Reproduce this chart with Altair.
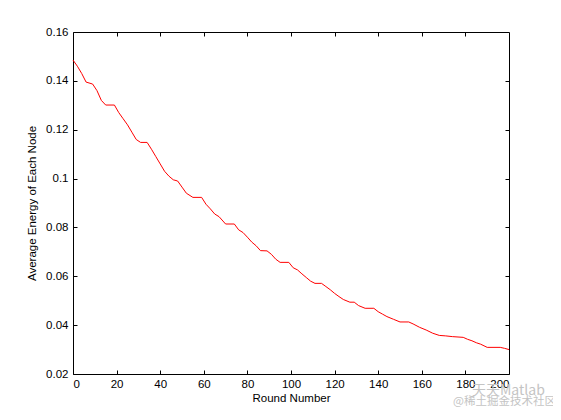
import altair as alt
import pandas as pd

rounds = [0, 2, 4, 6, 9, 11, 13, 15, 19, 21, 23, 25, 27, 29, 31, 34, 36, 38, 40, 42,
          44, 46, 48, 50, 52, 55, 59, 61, 63, 65, 67, 70, 74, 76, 78, 80, 82, 84, 86, 89,
          91, 93, 95, 99, 101, 103, 105, 107, 109, 111, 114, 116, 118, 120, 122, 124, 127, 129, 131, 134,
          138, 140, 142, 144, 147, 150, 154, 156, 159, 162, 165, 168, 171, 174, 179, 181, 183, 185, 187, 190,
          196, 198, 200]
energy = [0.1485, 0.1460, 0.1430, 0.1395, 0.1387, 0.1360, 0.1320, 0.1301, 0.1301, 0.1270,
          0.1245, 0.1220, 0.1190, 0.1160, 0.1148, 0.1148, 0.1120, 0.1090, 0.1060, 0.1030,
          0.1010, 0.0995, 0.0990, 0.0965, 0.0940, 0.0923, 0.0923, 0.0895, 0.0876, 0.0855,
          0.0844, 0.0814, 0.0814, 0.0790, 0.0779, 0.0760, 0.0740, 0.0725, 0.0705, 0.0704,
          0.0690, 0.0670, 0.0657, 0.0657, 0.0635, 0.0626, 0.0610, 0.0595, 0.0580, 0.0571,
          0.0571, 0.0558, 0.0545, 0.0530, 0.0517, 0.0505, 0.0494, 0.0494, 0.0480, 0.0469,
          0.0469, 0.0455, 0.0445, 0.0435, 0.0424, 0.0413, 0.0413, 0.0405, 0.0391, 0.0380,
          0.0367, 0.0358, 0.0356, 0.0353, 0.0350, 0.0342, 0.0336, 0.0328, 0.0322, 0.0309,
          0.0309, 0.0305, 0.0300]

x_ticks = [0, 20, 40, 60, 80, 100, 120, 140, 160, 180, 200]
y_ticks = [0.02, 0.04, 0.06, 0.08, 0.10, 0.12, 0.14, 0.16]

W, H = 436, 342
FONT = "Liberation Sans"
TL = 4  # inner tick length in px

df = pd.DataFrame({"round": rounds, "energy": energy})

xscale = alt.Scale(domain=[0, 200], nice=False, zero=False)
yscale = alt.Scale(domain=[0.02, 0.16], nice=False, zero=False)

ax_style = dict(labelFont=FONT, labelFontSize=11.5, labelColor="#000000",
                titleFont=FONT, titleFontSize=11.5, titleFontWeight="normal",
                titleColor="#000000", domain=True, domainColor="#000000",
                domainWidth=1, ticks=False, grid=True, gridColor="#000000",
                gridWidth=1, gridOpacity=1)

# grid lines dashed so that only a short piece at each end shows -> inner ticks on both sides;
# the last grid line on each axis is solid and closes the box (top / right edges).
x_grid_dash = alt.condition("datum.value >= 200", alt.value([1000, 0]),
                            alt.value([TL, H - 2 * TL, TL, 1000]))
y_grid_dash = alt.condition("datum.value >= 0.159", alt.value([1000, 0]),
                            alt.value([TL, W - 2 * TL, TL, 1000]))

line = alt.Chart(df).mark_line(color="#ff0000", strokeWidth=1).encode(
    x=alt.X("round:Q", scale=xscale,
            axis=alt.Axis(values=x_ticks, title="Round Number", labelPadding=4,
                          titlePadding=3, format="d", gridDash=x_grid_dash, **ax_style)),
    y=alt.Y("energy:Q", scale=yscale,
            axis=alt.Axis(values=y_ticks, title="Average Energy of Each Node",
                          labelPadding=5, titlePadding=8, format=".2~f",
                          gridDash=y_grid_dash, **ax_style)),
)

wm1 = alt.Chart(pd.DataFrame({"t": ["天天Matlab"]})).mark_text(
    font="Noto Sans CJK SC", fontSize=14, color="#c4c4c4", align="left", baseline="middle"
).encode(text="t:N", x=alt.value(399), y=alt.value(359))
wm2 = alt.Chart(pd.DataFrame({"t": ["@稀土掘金技术社区"]})).mark_text(
    font="Noto Sans CJK SC", fontSize=11.5, color="#c4c4c4", align="left", baseline="middle"
).encode(text="t:N", x=alt.value(380), y=alt.value(370))

chart = alt.layer(line, wm1, wm2).properties(
    width=W, height=H,
    autosize=alt.AutoSizeParams(type="none"),
    padding={"left": 65, "top": 24, "right": 44, "bottom": 38},
    background="white",
).configure_view(stroke="transparent")

chart.save("out.html", embed_options={"renderer": "svg", "actions": False})
